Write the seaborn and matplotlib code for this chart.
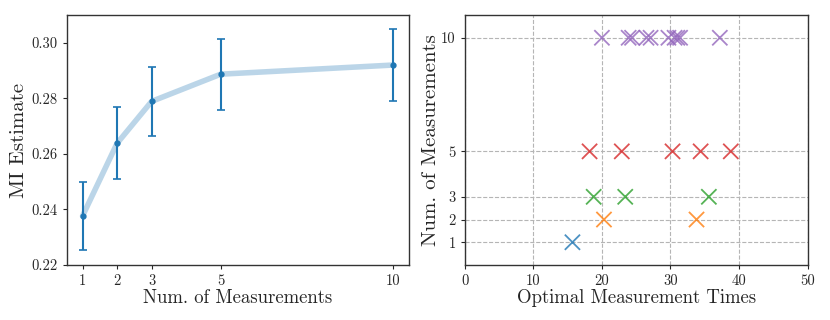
import matplotlib
matplotlib.use("Agg")
import matplotlib.pyplot as plt
import seaborn as sns
import pandas as pd
import numpy as np

# Left panel data
num_meas = [1, 2, 3, 5, 10]
mi_mean = [0.2376, 0.2638, 0.2789, 0.2887, 0.2920]
mi_err = [0.0121, 0.0130, 0.0125, 0.0128, 0.0130]

# Right panel data
times_1 = [15.7]
times_2 = [20.3, 33.8]
times_3 = [18.8, 23.4, 35.6]
times_5 = [18.2, 22.9, 30.3, 34.4, 38.8]
times_10 = [20.0, 23.9, 24.4, 26.5, 27.1, 29.7, 30.6, 31.0, 31.4, 37.2]

sns.set_style("ticks")
plt.rcParams['font.family'] = ['cmr10', 'DejaVu Serif']
plt.rcParams['axes.formatter.use_mathtext'] = True
plt.rcParams['mathtext.fontset'] = 'cm'

fig = plt.figure(figsize=(8.3, 3.2), dpi=100)
ax1 = fig.add_axes([0.0807, 0.172, 0.412, 0.781])
ax2 = fig.add_axes([0.560, 0.172, 0.413, 0.781])

blue = sns.color_palette("tab10")[0]
df1 = pd.DataFrame({"n": num_meas, "mi": mi_mean})
sns.lineplot(data=df1, x="n", y="mi", ax=ax1, color=blue, alpha=0.3, linewidth=4)
ax1.errorbar(num_meas, mi_mean, yerr=mi_err, fmt='o', color=blue, markersize=3.5,
             capsize=3, elinewidth=1.5, capthick=1.2)
ax1.set_xticks(num_meas)
ax1.set_xticklabels([str(n) for n in num_meas])
ax1.set_ylim(0.22, 0.310)
ax1.set_yticks([0.22, 0.24, 0.26, 0.28, 0.30])
ax1.set_yticklabels(["0.22", "0.24", "0.26", "0.28", "0.30"])
ax1.set_xlabel("Num. of Measurements", fontsize=13.5, labelpad=1)
ax1.set_ylabel("MI Estimate", fontsize=15, labelpad=3)
ax1.tick_params(labelsize=10.5, length=3)

rows = []
for n, ts in [(1, times_1), (2, times_2), (3, times_3), (5, times_5), (10, times_10)]:
    for t in ts:
        rows.append({"t": t, "n": n})
df2 = pd.DataFrame(rows)
sns.scatterplot(data=df2, x="t", y="n", hue="n", palette=sns.color_palette("tab10")[:5],
                hue_order=[1, 2, 3, 5, 10], marker="x", s=120, linewidth=1.3, alpha=0.8,
                ax=ax2, legend=False, zorder=3)
ax2.set_xlim(0, 50)
ax2.set_ylim(0, 11)
ax2.set_yticks(num_meas)
ax2.set_yticklabels([str(n) for n in num_meas])
ax2.set_xticks([0, 10, 20, 30, 40, 50])
ax2.set_xticklabels(["0", "10", "20", "30", "40", "50"])
ax2.grid(True, linestyle='--', color='#b5b5b5', linewidth=0.8)
ax2.set_axisbelow(True)
ax2.set_xlabel("Optimal Measurement Times", fontsize=13.5, labelpad=1)
ax2.set_ylabel("Num. of Measurements", fontsize=15, labelpad=1)
ax2.tick_params(labelsize=10.5, length=3)

for ax in (ax1, ax2):
    for s in ax.spines.values():
        s.set_color('#333333')
        s.set_linewidth(1.0)

fig.savefig("out.png", dpi=100)
